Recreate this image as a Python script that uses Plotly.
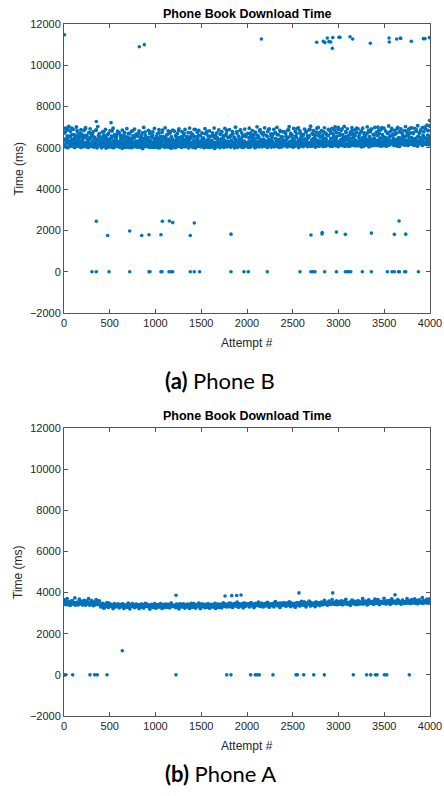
import numpy as np
import plotly.graph_objects as go

# ---------------- Phone B (top panel) ----------------
# download times (ms) of the dense band, in attempt order
band_b = [
    6420,6150,6780,6050,6310,6890,6210,6560,6080,6370,6960,6190,
    6270,6640,6020,6480,6160,6830,6340,6090,6550,6230,6710,6130,
    6380,6060,6600,6250,6920,6140,6450,6030,6300,6750,6180,6520,
    6110,6690,6280,6040,6470,6200,6860,6350,6070,6590,6240,6410,
    6180,6030,6520,6260,6780,6120,6390,5990,6230,6640,6070,6330,
    6050,6460,6190,6820,6280,6010,6560,6150,6370,6090,6700,6220,
    6310,6080,6620,6170,5980,6430,6240,6750,6060,6350,6140,6520,
    6020,6290,6680,6110,6400,6200,6830,6050,6480,6160,6310,6580,
    6230,6700,6040,6350,6130,6590,6270,5970,6440,6100,6760,6190,
    6380,6060,6510,6210,6800,6120,6300,6030,6620,6250,6090,6450,
    6140,6570,6280,6010,6720,6180,6400,6070,6260,6860,6130,6340,
    6090,6490,6200,6650,6040,6310,6150,6780,6230,5990,6420,6110,
    6330,6050,6600,6170,6380,6080,6840,6250,6120,6530,6030,6290,
    6200,6700,6060,6410,6150,6560,6270,6000,6480,6190,6740,6100,
    6260,6020,6540,6130,6880,6240,6360,6070,6610,6180,6300,6050,
    6120,6450,6230,6010,6690,6160,6320,6800,6080,6400,6210,6570,
    6040,6350,6150,6620,6270,5980,6470,6110,6730,6200,6060,6390,
    6300,6090,6760,6180,6440,6030,6260,6590,6140,6850,6220,6080,
    6170,6510,6050,6340,6120,6680,6240,6000,6430,6150,6790,6270,
    6060,6380,6210,6870,6100,6290,6560,6040,6330,6180,6650,6120,
    6250,6030,6490,6190,6710,6080,6360,6140,6580,6270,6020,6440,
    6160,6620,6300,6050,6820,6230,6400,6110,6260,6740,6090,6350,
    6280,6070,6550,6200,6900,6130,6320,6040,6470,6210,6680,6170,
    6100,6430,6260,6640,6060,6380,6190,6790,6310,6050,6520,6240,
    6350,6120,6700,6230,6460,6080,6870,6290,6150,6600,6200,6410,
    6040,6330,6180,6560,6270,6930,6120,6390,6070,6720,6250,6480,
    6220,6610,6090,6420,6170,6800,6300,6060,6530,6240,6880,6150,
    6380,6100,6660,6250,6490,6130,6360,6950,6210,6590,6080,6320,
    6150,6540,6290,6070,6770,6200,6440,6120,6630,6280,6900,6190,
    6300,6080,6710,6230,6480,6140,6850,6350,6100,6560,6260,6990,
    6210,6600,6130,6400,6920,6250,6520,6090,6370,6740,6180,6450,
    6090,6360,6240,6680,6150,6830,6290,6460,6120,6590,6330,6960,
    6270,6110,6570,6340,6180,6780,6220,6490,6070,6650,6300,6430,
    6140,6720,6260,6050,6540,6380,6910,6190,6410,6120,6620,6280,
    6360,6170,6600,6230,6840,6100,6470,6290,6980,6200,6530,6150,
    6230,6510,6080,6390,6700,6260,6140,6580,6330,6870,6210,6440,
    6110,6640,6350,6190,6930,6280,6500,6070,6420,6760,6240,6370,
    6300,6150,6560,6240,6810,6360,6120,6620,6270,6950,6180,6490,
    6200,6690,6130,6430,6260,6880,6320,6090,6540,6230,6770,6380,
    6340,6120,6600,6250,7000,6180,6460,6290,6850,6150,6560,7080,
]
# more attempts in the band core (ms), in attempt order
band_b_core = [
    6120,6380,6050,6260,6470,6010,6330,6190,6550,6080,6290,6420,
    6230,6040,6360,6150,6590,6270,6090,6450,6180,6320,6020,6510,
    6310,6170,6480,6060,6250,6600,6130,6390,6030,6210,6440,6100,
    6070,6340,6200,6530,6110,6280,6410,6000,6360,6160,6490,6240,
    6150,6010,6290,6430,6080,6210,6560,6120,6300,6040,6380,6190,
    6260,6100,6470,6030,6320,6180,6050,6400,6240,6570,6110,6290,
    6040,6210,6350,6120,6500,6060,6270,6150,6020,6430,6190,6310,
    6180,6450,6070,6280,6010,6360,6140,6520,6230,6090,6300,6040,
    6330,6110,6240,6050,6460,6200,6000,6310,6150,6390,6070,6250,
    6090,6270,6410,6160,6030,6340,6220,6080,6480,6130,6020,6370,
    6200,6050,6320,6460,6120,6010,6260,6390,6070,6180,6540,6140,
    6030,6350,6180,6090,6280,6420,6110,6000,6240,6370,6150,6060,
    6270,6140,6010,6380,6210,6070,6500,6190,6330,6040,6230,6440,
    6120,6300,6230,6060,6410,6160,6280,6020,6350,6100,6470,6180,
    6050,6220,6370,6130,6000,6290,6180,6450,6080,6260,6140,6330,
    6240,6090,6160,6420,6310,6040,6210,6120,6380,6020,6300,6190,
    6160,6340,6060,6250,6130,6490,6020,6280,6170,6400,6080,6230,
    6010,6200,6440,6110,6270,6150,6360,6070,6220,6050,6330,6520,
    6290,6130,6040,6350,6180,6260,6090,6470,6140,6310,6200,6030,
    6110,6390,6240,6080,6430,6020,6170,6300,6060,6250,6540,6150,
    6200,6060,6330,6180,6040,6290,6460,6120,6370,6140,6010,6270,
    6080,6250,6150,6480,6230,6100,6340,6050,6190,6420,6270,6130,
    6310,6170,6020,6260,6400,6140,6210,6560,6090,6300,6180,6050,
    6140,6450,6290,6070,6180,6350,6030,6240,6470,6110,6380,6220,
    6260,6100,6190,6410,6050,6230,6520,6160,6300,6070,6260,6440,
    6170,6380,6080,6290,6510,6140,6250,6020,6360,6200,6490,6110,
    6350,6060,6240,6170,6420,6300,6110,6460,6190,6580,6240,6080,
    6090,6290,6450,6130,6260,6040,6390,6210,6100,6340,6170,6520,
    6230,6140,6360,6500,6180,6270,6080,6410,6250,6130,6600,6300,
    6120,6440,6200,6070,6330,6560,6160,6280,6430,6190,6310,6060,
    6280,6170,6390,6250,6110,6470,6220,6350,6080,6540,6200,6420,
    6150,6340,6080,6460,6290,6190,6610,6130,6270,6380,6100,6250,
    6300,6210,6480,6120,6370,6050,6260,6430,6180,6320,6570,6140,
    6190,6400,6270,6160,6530,6310,6100,6240,6390,6200,6460,6290,
    6250,6120,6350,6590,6210,6420,6170,6300,6080,6480,6260,6380,
    6110,6290,6450,6230,6140,6370,6520,6190,6330,6240,6610,6160,
    6340,6180,6260,6410,6090,6300,6220,6470,6150,6390,6280,6550,
    6200,6430,6130,6320,6580,6250,6370,6160,6500,6230,6310,6420,
    6270,6150,6390,6240,6460,6110,6330,6540,6200,6350,6260,6480,
    6180,6360,6290,6520,6220,6440,6170,6310,6620,6250,6400,6330,
]
# slower attempts in the upper part of the band (ms), in attempt order
band_b_upper = [
    6720,6950,6580,7040,6810,6650,6900,6530,7010,6760,6620,6880,
    6600,6840,6980,6550,6730,6920,6640,6790,6500,6870,7030,6690,
    6520,6770,6610,6890,6460,6700,6830,6570,6950,6640,6480,6810,
    6740,6490,6860,6620,6550,6930,6700,6470,6800,6580,6910,6660,
    6580,6820,6510,6720,6990,6600,6460,6850,6690,6530,6770,6940,
    6470,6690,6880,6560,6750,6500,6970,6630,6820,6710,6540,6860,
    6810,6550,6700,6920,6480,6780,6610,6890,6520,6740,6960,6600,
    6650,6900,6530,6760,6840,6590,6720,6480,6930,6680,6570,6820,
    6540,6730,6960,6620,6500,6870,6660,6790,6580,6940,6700,6510,
    6880,6610,6780,6520,7000,6690,6560,6850,6730,6600,6910,6640,
    6700,6950,6590,6830,6640,6760,7020,6550,6880,6710,6620,6970,
    6610,6800,6920,6680,6570,6890,6740,6990,6630,6850,6540,6780,
    6770,6560,6860,7030,6700,6620,6940,6790,6680,6970,6820,6600,
    6650,6910,6740,6580,6880,7050,6690,6830,6610,6760,6990,6720,
    6830,6620,6970,6710,6590,6860,6780,6940,6670,7010,6740,6900,
    6700,6850,6640,7040,6790,6920,6610,6760,6980,6680,6870,6750,
    6920,6680,6810,6950,6720,6600,7020,6840,6770,6910,6650,6990,
    6760,7000,6700,6880,6640,6960,6820,6730,7060,6790,6940,6680,
    6850,6710,6990,6780,6920,6670,6830,7030,6750,6890,6720,6970,
    6740,6940,6810,7070,6700,6870,6980,6780,6920,7100,6830,7050,
]
# isolated attempts (attempt #, ms)
out_b_x = [5, 823, 878, 2157, 2762, 2834, 2852, 2878, 2896, 2915, 2933, 2937,
           3005, 3016, 3126, 3155, 3348, 3552, 3555, 3636, 3676, 3680, 3796,
           3928, 3945, 3993,
           353, 514, 3995,
           353, 477, 718, 849, 929, 1060, 1075, 1151, 1188, 1380, 1424, 1825,
           2699, 2820, 2822, 2977, 3075, 3359, 3610, 3662, 3735,
           306, 353, 492, 718, 929, 940, 1060, 1071, 1148, 1170, 1188, 1380,
           1424, 1482, 1825, 1967, 2014, 2222, 2579, 2699, 2718, 2743, 2849,
           2977, 3075, 3097, 3115, 3134, 3260, 3359, 3534, 3585, 3610, 3655,
           3666, 3724, 3735, 3873]
out_b_y = [11480, 10900, 11000, 11273, 11113, 11160, 11100, 11320, 11145, 11130,
           10820, 11340, 11355, 11355, 11385, 11275, 11065, 11320, 11130, 11275,
           11320, 11300, 11160, 11290, 11290, 11340,
           7275, 7220, 7320,
           2443, 1757, 1970, 1757, 1790, 1790, 2443, 2460, 2380, 1757, 2360, 1820,
           1775, 1830, 1900, 1920, 1810, 1870, 1810, 2460, 1820,
           0, 0, 0, 0, 0, 0, 0, 0, 0, 0, 0, 0,
           0, 0, 0, 0, 0, 0, 0, 0, 0, 0, 0,
           0, 0, 0, 0, 0, 0, 0, 0, 0, 0, 0,
           0, 0, 0, 0]

# ---------------- Phone A (bottom panel) ----------------
band_a = [
    3520,3440,3580,3470,3410,3550,3490,3430,3600,3460,3510,3390,
    3480,3540,3420,3500,3570,3450,3400,3530,3470,3590,3430,3490,
    3450,3390,3510,3460,3540,3380,3480,3420,3500,3440,3560,3410,
    3400,3350,3460,3380,3430,3320,3410,3370,3480,3340,3420,3390,
    3360,3420,3310,3390,3340,3450,3370,3300,3410,3350,3440,3330,
    3380,3320,3430,3350,3290,3400,3360,3460,3330,3390,3310,3420,
    3340,3400,3370,3300,3440,3350,3410,3320,3380,3450,3360,3310,
    3390,3330,3420,3360,3300,3460,3340,3400,3370,3310,3430,3350,
    3320,3410,3350,3440,3380,3290,3420,3360,3330,3470,3390,3340,
    3370,3300,3430,3350,3400,3320,3450,3380,3340,3410,3290,3390,
    3350,3440,3310,3380,3420,3340,3300,3460,3370,3330,3410,3360,
    3400,3330,3390,3450,3320,3370,3430,3350,3290,3420,3380,3340,
    3360,3420,3340,3300,3470,3380,3330,3410,3350,3440,3310,3390,
    3390,3350,3450,3370,3410,3320,3480,3360,3430,3340,3400,3460,
    3420,3370,3330,3460,3390,3440,3350,3410,3480,3380,3340,3430,
    3400,3450,3360,3420,3490,3380,3430,3340,3470,3410,3370,3440,
    3430,3380,3470,3410,3350,3460,3400,3500,3390,3440,3360,3420,
    3410,3460,3390,3520,3430,3370,3450,3410,3480,3400,3440,3380,
    3440,3400,3490,3420,3460,3380,3510,3430,3390,3470,3420,3450,
    3460,3420,3380,3500,3440,3480,3410,3530,3450,3400,3490,3430,
    3470,3430,3520,3450,3400,3490,3440,3540,3460,3420,3500,3480,
    3450,3510,3420,3480,3550,3440,3490,3410,3530,3470,3430,3500,
    3490,3440,3530,3470,3420,3560,3480,3450,3510,3430,3570,3460,
    3480,3520,3450,3500,3430,3540,3470,3590,3490,3440,3530,3460,
    3510,3460,3550,3480,3520,3440,3570,3500,3470,3540,3450,3600,
    3470,3530,3490,3560,3450,3510,3480,3620,3500,3460,3550,3520,
    3520,3480,3570,3500,3460,3540,3490,3610,3510,3470,3580,3530,
    3500,3550,3470,3530,3600,3490,3540,3460,3580,3510,3480,3560,
    3540,3490,3580,3520,3470,3600,3530,3500,3570,3480,3620,3510,
    3530,3570,3500,3550,3480,3610,3540,3590,3510,3560,3490,3580,
]
band_a_more = [
    3650,3420,3710,3530,3380,3600,3460,3740,3500,3410,3680,3560,
    3440,3620,3390,3570,3700,3480,3610,3370,3540,3660,3430,3590,
    3300,3470,3240,3390,3510,3280,3430,3350,3220,3460,3320,3400,
    3260,3380,3450,3230,3360,3290,3480,3210,3340,3410,3270,3440,
    3350,3220,3420,3300,3250,3470,3330,3390,3200,3370,3280,3430,
    3240,3400,3310,3460,3230,3350,3280,3420,3310,3260,3490,3340,
    3380,3270,3440,3210,3360,3300,3450,3250,3400,3320,3230,3470,
    3290,3430,3250,3370,3480,3220,3350,3410,3270,3330,3460,3240,
    3410,3300,3360,3230,3440,3280,3390,3260,3500,3340,3310,3420,
    3320,3470,3280,3410,3350,3530,3290,3440,3370,3260,3490,3380,
    3450,3310,3500,3360,3270,3430,3390,3540,3330,3470,3300,3410,
    3360,3520,3290,3440,3400,3310,3560,3380,3470,3280,3430,3500,
    3480,3340,3410,3550,3320,3460,3370,3290,3510,3420,3350,3570,
    3390,3530,3310,3460,3580,3350,3440,3400,3320,3520,3470,3370,
    3540,3420,3620,3480,3390,3580,3450,3660,3510,3430,3600,3470,
    3460,3590,3410,3550,3670,3440,3520,3380,3630,3490,3570,3420,
    3610,3450,3530,3700,3470,3580,3400,3640,3500,3560,3440,3680,
    3490,3650,3420,3570,3510,3720,3460,3600,3540,3430,3690,3550,
    3580,3470,3660,3520,3440,3630,3560,3490,3710,3600,3480,3650,
    3520,3690,3570,3460,3640,3540,3750,3590,3500,3680,3620,3560,
]
out_a_x = [1224, 1760, 1833, 1888, 1935, 2568, 2937, 3617, 3998,
           637,
           3, 18, 95, 284, 335, 364, 470, 1224, 1778, 1825, 2040, 2091, 2113,
           2135, 2284, 2536, 2550, 2620, 2729, 2845, 3162, 3308, 3352, 3403,
           3421, 3501, 3527, 3774]
out_a_y = [3870, 3830, 3850, 3860, 3880, 3985, 3985, 3890, 3700,
           1170,
           0, 0, 0, 0, 0, 0, 0, 0, 0, 0, 0, 0, 0,
           0, 0, 0, 0, 0, 0, 0, 0, 0, 0, 0,
           0, 0, 0, 0]

titles = ["Phone Book Download Time", "Phone Book Download Time"]
captions = ["<b>(a)</b> Phone B", "<b>(b)</b> Phone A"]
x_label = "Attempt #"
y_label = "Time (ms)"

COLOR = "#0072BD"
W, H = 444, 796


def px_x(p):
    return p / W


def px_y(p):
    return 1 - p / H


def attempts(values):
    # attempt number of each sample of a band, in order
    return np.linspace(1, 4000, len(values))


fig = go.Figure()

band_marker = dict(color=COLOR, size=3.8, line=dict(width=0))
out_marker = dict(color=COLOR, size=3.6, line=dict(width=0))

for vals in (band_b, band_b_core, band_b_upper):
    fig.add_trace(go.Scatter(x=attempts(vals), y=vals, mode="markers", xaxis="x", yaxis="y",
                             marker=band_marker, showlegend=False))
fig.add_trace(go.Scatter(x=out_b_x, y=out_b_y, mode="markers", xaxis="x", yaxis="y",
                         marker=out_marker, showlegend=False))
for vals in (band_a, band_a_more):
    fig.add_trace(go.Scatter(x=attempts(vals), y=vals, mode="markers", xaxis="x2", yaxis="y2",
                             marker=band_marker, showlegend=False))
fig.add_trace(go.Scatter(x=out_a_x, y=out_a_y, mode="markers", xaxis="x2", yaxis="y2",
                         marker=out_marker, showlegend=False))

tickfont = dict(family="Liberation Sans, Arial, sans-serif", size=11, color="#262626")
axis_common = dict(showgrid=False, zeroline=False, showline=True, linecolor="#555555",
                   linewidth=1, mirror="allticks", ticks="inside", ticklen=4,
                   tickcolor="#555555", tickfont=tickfont, tickformat="d",
                   automargin=False)

x_dom = [px_x(64), px_x(430)]
top_dom = [px_y(313), px_y(24)]
bot_dom = [px_y(716), px_y(428)]

fig.update_layout(
    width=W, height=H,
    margin=dict(l=0, r=0, t=0, b=0),
    paper_bgcolor="white", plot_bgcolor="white",
    xaxis=dict(domain=x_dom, range=[0, 4000], dtick=500, anchor="y", **axis_common),
    yaxis=dict(domain=top_dom, range=[-2000, 12000], dtick=2000, anchor="x", **axis_common),
    xaxis2=dict(domain=x_dom, range=[0, 4000], dtick=500, anchor="y2", **axis_common),
    yaxis2=dict(domain=bot_dom, range=[-2000, 12000], dtick=2000, anchor="x2", **axis_common),
)

ann = []
lab_font = dict(family="Liberation Sans, Arial, sans-serif", size=12, color="#262626")
for i, (ttl_y, ylab_y, xlab_y, cap_y) in enumerate([(14, 168.5, 343, 381), (416, 572, 746, 773)]):
    ann.append(dict(text="<b>%s</b>" % titles[i], x=px_x(247), y=px_y(ttl_y), xref="paper", yref="paper",
                    showarrow=False, xanchor="center", yanchor="middle",
                    font=dict(family="Liberation Sans, Arial, sans-serif", size=12.5, color="black")))
    ann.append(dict(text=y_label, x=px_x(18), y=px_y(ylab_y), xref="paper", yref="paper",
                    showarrow=False, xanchor="center", yanchor="middle", textangle=-90, font=lab_font))
    ann.append(dict(text=x_label, x=px_x(247), y=px_y(xlab_y), xref="paper", yref="paper",
                    showarrow=False, xanchor="center", yanchor="middle", font=lab_font))
    ann.append(dict(text=captions[i], x=px_x(220), y=px_y(cap_y), xref="paper", yref="paper",
                    showarrow=False, xanchor="center", yanchor="middle",
                    font=dict(family="Lato, DejaVu Sans, sans-serif", size=22, color="black")))
fig.update_layout(annotations=ann)

fig.write_html("out.html", config={"displayModeBar": False},
               post_script="document.body.style.margin='0';document.body.style.overflow='hidden';")
